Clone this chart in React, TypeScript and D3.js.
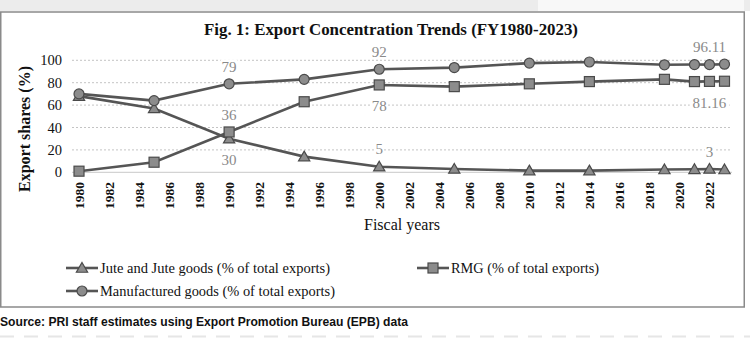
import React from "react";
import * as d3 from "d3";

const years = [1980, 1985, 1990, 1995, 2000, 2005, 2010, 2014, 2019, 2021, 2022, 2023];
const jute = [68, 57, 30, 14, 5, 3, 1.5, 1.5, 2.5, 2.7, 3, 2.5];
const rmg = [1, 9, 36, 63, 78, 76.5, 79, 81, 83, 81, 81.16, 81.3];
const manufactured = [70, 64, 79, 83, 92, 93.5, 97.5, 98.5, 96, 96.2, 96.11, 96.5];
const yTicks = [0, 20, 40, 60, 80, 100];
const xTickYears = [1980, 1982, 1984, 1986, 1988, 1990, 1992, 1994, 1996, 1998, 2000, 2002, 2004, 2006, 2008, 2010, 2012, 2014, 2016, 2018, 2020, 2022];
const seriesNames = [
  "Jute and Jute goods (% of total exports)",
  "RMG (% of total exports)",
  "Manufactured goods (% of total exports)",
];
// annotations: year, value text, value, below?
const annYears = [1990, 1990, 1990, 2000, 2000, 2000, 2022, 2022, 2022];
const annTexts = ["79", "36", "30", "92", "78", "5", "96.11", "81.16", "3"];
const annValues = [79, 36, 30, 92, 78, 5, 96.11, 81.16, 3];
const annBelow = [false, false, true, false, true, false, false, true, false];

const W = 750;
const H = 339;
const serif = "'Liberation Serif', 'Times New Roman', serif";
const sans = "'Liberation Sans', Arial, sans-serif";
const LINE = "#555555";
const MFILL = "#8c8c8c";
const MSTROKE = "#4a4a4a";

function Marker({ kind, x, y }: { kind: string; x: number; y: number }) {
  if (kind === "circle") return <circle cx={x} cy={y} r={5} fill={MFILL} stroke={MSTROKE} strokeWidth={1.2} />;
  if (kind === "square") return <rect x={x - 5} y={y - 5} width={10} height={10} fill={MFILL} stroke={MSTROKE} strokeWidth={1.2} />;
  const p = d3.symbol(d3.symbolTriangle, 55)();
  return <path d={p || ""} transform={`translate(${x},${y + 1})`} fill={MFILL} stroke={MSTROKE} strokeWidth={1.2} />;
}

export default function App() {
  const x = d3.scaleLinear().domain([1979.5, 2023.5]).range([71.5, 732]);
  const y = d3.scaleLinear().domain([0, 100]).range([172.3, 60.3]);
  const line = d3
    .line<[number, number]>()
    .x((d) => x(d[0]))
    .y((d) => y(d[1]));
  const series = [
    { vals: jute, kind: "triangle" },
    { vals: rmg, kind: "square" },
    { vals: manufactured, kind: "circle" },
  ];
  const legendPos = [
    { lx: 66, ly: 268, tl: 230 },
    { lx: 417, ly: 268, tl: 148 },
    { lx: 66, ly: 291, tl: 235 },
  ];
  return (
    <svg width={W} height={H} style={{ position: "absolute", left: 0, top: 0, background: "#fff" }}>
      <rect x={0} y={0} width={W} height={11} fill="#ececec" />
      <rect x={538} y={0} width={206} height={11} fill="#f8f8f8" />
      <rect x={0.75} y={12} width={743.5} height={295} fill="#fff" stroke="#8a8a8a" strokeWidth={1.5} />
      <line x1={0} x2={W} y1={336.5} y2={336.5} stroke="#e6e6e6" strokeWidth={2} strokeDasharray="14 10" />

      <text x={204} y={35} fontFamily={serif} fontWeight="bold" fontSize={17.5} fill="#111" textLength={374} lengthAdjust="spacingAndGlyphs">
        Fig. 1: Export Concentration Trends (FY1980-2023)
      </text>

      {yTicks.map((t) => (
        <g key={t}>
          <line x1={72} x2={732} y1={y(t)} y2={y(t)} stroke={t === 0 ? "#c8c8c8" : "#c4c4c4"} strokeWidth={1} strokeDasharray={t === 0 ? "" : "2 2"} />
          <text x={62} y={y(t)} dy="0.35em" textAnchor="end" fontFamily={serif} fontSize={14.5} fill="#111">
            {t}
          </text>
        </g>
      ))}

      <text transform={`translate(30,129) rotate(-90)`} textAnchor="middle" fontFamily={serif} fontWeight="bold" fontSize={16} fill="#111">
        Export shares (%)
      </text>

      {xTickYears.map((yr) => (
        <text key={yr} transform={`translate(${x(yr)},182) rotate(-90)`} textAnchor="end" dy="0.35em" fontFamily={serif} fontWeight="bold" fontSize={13.5} fill="#111">
          {yr}
        </text>
      ))}
      <text x={402} y={230} textAnchor="middle" fontFamily={serif} fontSize={16} fill="#111">
        Fiscal years
      </text>

      {series.map((s, i) => {
        const pts = years.map((yr, j) => [yr, s.vals[j]] as [number, number]);
        return (
          <g key={i}>
            <path d={line(pts) || ""} fill="none" stroke={LINE} strokeWidth={2.6} />
            {pts.map((p, j) => (
              <Marker key={j} kind={s.kind} x={x(p[0])} y={y(p[1])} />
            ))}
          </g>
        );
      })}

      {annTexts.map((t, i) => {
        const cx = x(annYears[i]);
        const cy = y(annValues[i]) + (annBelow[i] ? 21 : -17.5);
        const w = t.length * 7.5 + 2;
        return (
          <g key={i}>
            <rect x={cx - w / 2} y={cy - 7} width={w} height={14} fill="#fff" />
            <text x={cx} y={cy} dy="0.35em" textAnchor="middle" fontFamily={serif} fontSize={15} fill="#8a8a8a">
              {t}
            </text>
          </g>
        );
      })}

      {series.map((s, i) => {
        const p = legendPos[i];
        return (
          <g key={i}>
            <line x1={p.lx} x2={p.lx + 32} y1={p.ly} y2={p.ly} stroke={LINE} strokeWidth={2.6} />
            <Marker kind={s.kind} x={p.lx + 16} y={p.ly} />
            <text x={p.lx + 34} y={p.ly} dy="0.35em" fontFamily={serif} fontSize={15} fill="#111" textLength={p.tl} lengthAdjust="spacingAndGlyphs">
              {seriesNames[i]}
            </text>
          </g>
        );
      })}

      <text x={0} y={322} dy="0.35em" fontFamily={sans} fontWeight="bold" fontSize={12} fill="#111" textLength={408} lengthAdjust="spacingAndGlyphs">
        Source: PRI staff estimates using Export Promotion Bureau (EPB) data
      </text>
    </svg>
  );
}
